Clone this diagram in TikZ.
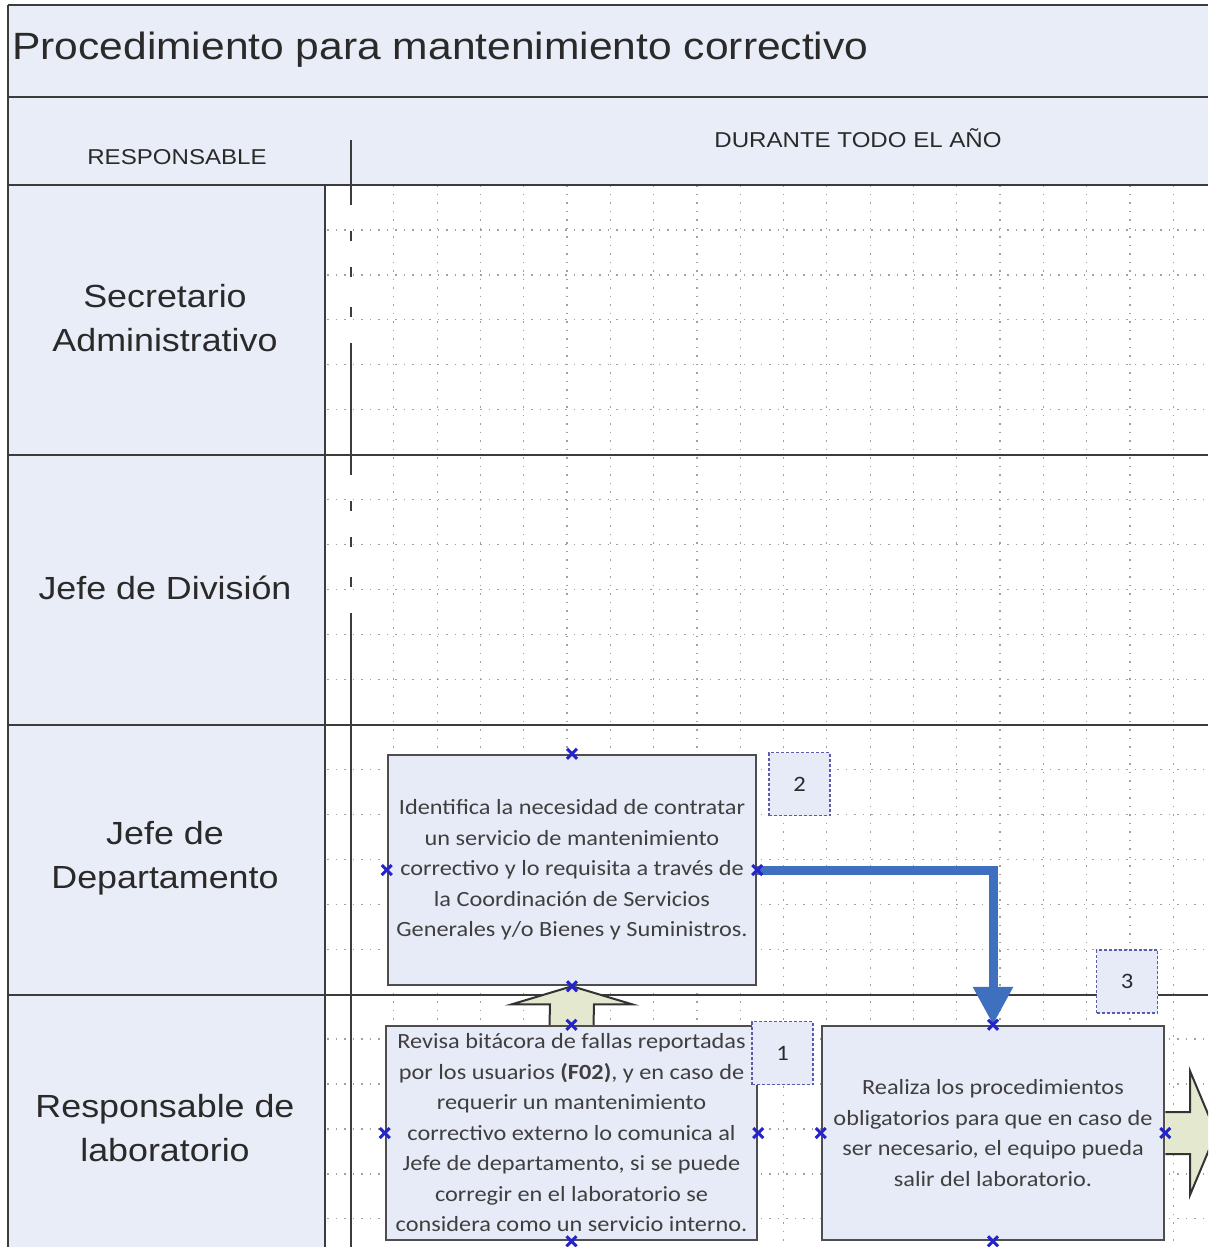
\documentclass[tikz,border=0pt]{standalone}
\usepackage{fontspec}
\setmainfont[FakeStretch=1.12]{Liberation Sans}
\newfontfamily\boxfont[FakeStretch=1.12]{Carlito}
\usetikzlibrary{arrows.meta,shapes.misc,calc}

\definecolor{bandfill}{HTML}{E9EDF7}
\definecolor{boxfill}{HTML}{E7EBF7}
\definecolor{arrowfill}{HTML}{E3E8CF}
\definecolor{flowblue}{HTML}{3F70C0}
\definecolor{numblue}{HTML}{5A5AB0}
\definecolor{cptblue}{HTML}{2424C8}
\definecolor{lanegray}{HTML}{3C3C3C}
\definecolor{boxgray}{HTML}{4E4E4E}
\definecolor{gridgray}{HTML}{A0A0A0}
\definecolor{textgray}{HTML}{2A2A2A}

\tikzset{
  lane/.style={draw=lanegray,line width=2.5pt},
  gridline/.style={draw=gridgray,line width=1.2pt,dash pattern=on 1.5pt off 7pt},
  lanelabel/.style={align=center,text=textgray,inner sep=0pt,font=\fontsize{32}{44}\selectfont},
  headlabel/.style={text=textgray,inner sep=0pt,font=\fontsize{21.5}{24}\selectfont},
  activity/.style={draw=boxgray,line width=2.5pt,fill=boxfill,align=center,text=textgray!90,inner sep=0pt,
    font=\boxfont\fontsize{21.7}{30.5}\selectfont},
  stepnum/.style={draw=numblue,densely dashed,line width=1.5pt,fill=boxfill,minimum width=61pt,minimum height=63pt,
    inner sep=0pt,text=textgray,font=\boxfont\fontsize{22}{22}\selectfont},
  cpt/.style={cross out,draw=cptblue,line width=3pt,minimum size=7pt,inner sep=0pt},
  flow/.style={draw=flowblue,line width=9pt,-{Triangle[width=38pt,length=38pt]}},
  blockarrow/.style={draw=black!80,line width=2pt,fill=arrowfill,line join=miter},
  milestone/.style={draw=lanegray,line width=2.5pt}
}

\begin{document}
\begin{tikzpicture}[x=1pt,y=-1pt]
  \useasboundingbox (0,0) rectangle (1208,1247);
  \clip (0,0) rectangle (1208,1247);
  \fill[white] (0,0) rectangle (1208,1247);
  \fill[bandfill] (8,5) rectangle (1208,185);
  \fill[bandfill] (8,185) rectangle (325,1247);

  \foreach \i in {1,...,19}
    \draw[gridline] (350.5+43.3*\i,185) -- ++(0,1062);
  \foreach \j in {1,...,23}
    \draw[gridline] (327,185+44.95*\j) -- (1208,185+44.95*\j);

  \draw[lane] (8,5) -- (1208,5);
  \draw[lane] (8,5) -- (8,1247);
  \draw[lane] (8,97) -- (1208,97);
  \draw[lane] (8,185) -- (1208,185);
  \draw[lane] (8,455) -- (1208,455);
  \draw[lane] (8,725) -- (1208,725);
  \draw[lane] (8,995) -- (1208,995);
  \draw[lane] (325,185) -- (325,1247);
  \draw[draw=lanegray,line width=1.2pt] (351,140) -- (351,185);
  \draw[milestone,dash pattern=on 20pt off 26pt on 10pt off 26pt on 10pt off 30pt on 10pt off 26pt on 112pt off 0pt]
    (351,185) -- (351,725);
  \draw[milestone] (351,725) -- (351,1247);

  \node[anchor=west,inner sep=0pt,text=textgray,font=\fontsize{38}{38}\selectfont] (title) at (12,50)
    {Procedimiento para mantenimiento correctivo};
  \node[headlabel] (resp) at (177,157) {RESPONSABLE};
  \node[headlabel] (period) at (858,138) {DURANTE TODO EL AÑO};

  \node[lanelabel] (secadm) at (165,318) {Secretario\\Administrativo};
  \node[lanelabel] (jefediv) at (165,588) {Jefe de División};
  \node[lanelabel] (jefedep) at (165,858) {Jefe de\\Departamento};
  \node[lanelabel] (resplab) at (165,1128) {Responsable de\\laboratorio};

  \node[activity,minimum width=368pt,minimum height=230pt] (act2) at (572,870)
    {Identifica la necesidad de contratar\\un servicio de mantenimiento\\correctivo y lo requisita a través de\\la Coordinación de Servicios\\Generales y/o Bienes y Suministros.};
  \node[activity,minimum width=371pt,minimum height=214pt] (act1) at (571.5,1133)
    {Revisa bitácora de fallas reportadas\\por los usuarios \textbf{(F02)}, y en caso de\\requerir un mantenimiento\\correctivo externo lo comunica al\\Jefe de departamento, si se puede\\corregir en el laboratorio se\\considera como un servicio interno.};
  \node[activity,minimum width=342pt,minimum height=214pt] (act3) at (993,1133)
    {Realiza los procedimientos\\obligatorios para que en caso de\\ser necesario, el equipo pueda\\salir del laboratorio.};

  \node[stepnum] (num2) at (799.5,784) {2};
  \node[stepnum] (num1) at (782.5,1053) {1};
  \node[stepnum] (num3) at (1127,981.5) {3};

  \draw[blockarrow] ($(act1.north)+(-22,0)$) -- ($(act2.south)+(-22,18)$) -- ($(act2.south)+(-60,18)$)
    -- (act2.south) -- ($(act2.south)+(60,18)$) -- ($(act2.south)+(22,18)$) -- ($(act1.north)+(22,0)$);

  \coordinate (exit) at (1216,1133);
  \draw[blockarrow] ($(act3.east)+(0,-21)$) -- ($(exit)+(-26,-21)$) -- ($(exit)+(-26,-62)$)
    -- (exit) -- ($(exit)+(-26,62)$) -- ($(exit)+(-26,21)$) -- ($(act3.east)+(0,21)$);

  \draw[flow] (act2.east) -| (act3.north);

  \foreach \b in {act1,act2,act3}
    \foreach \a in {north,south,east,west}
      \node[cpt] (\b-\a) at (\b.\a) {};
\end{tikzpicture}
\end{document}
